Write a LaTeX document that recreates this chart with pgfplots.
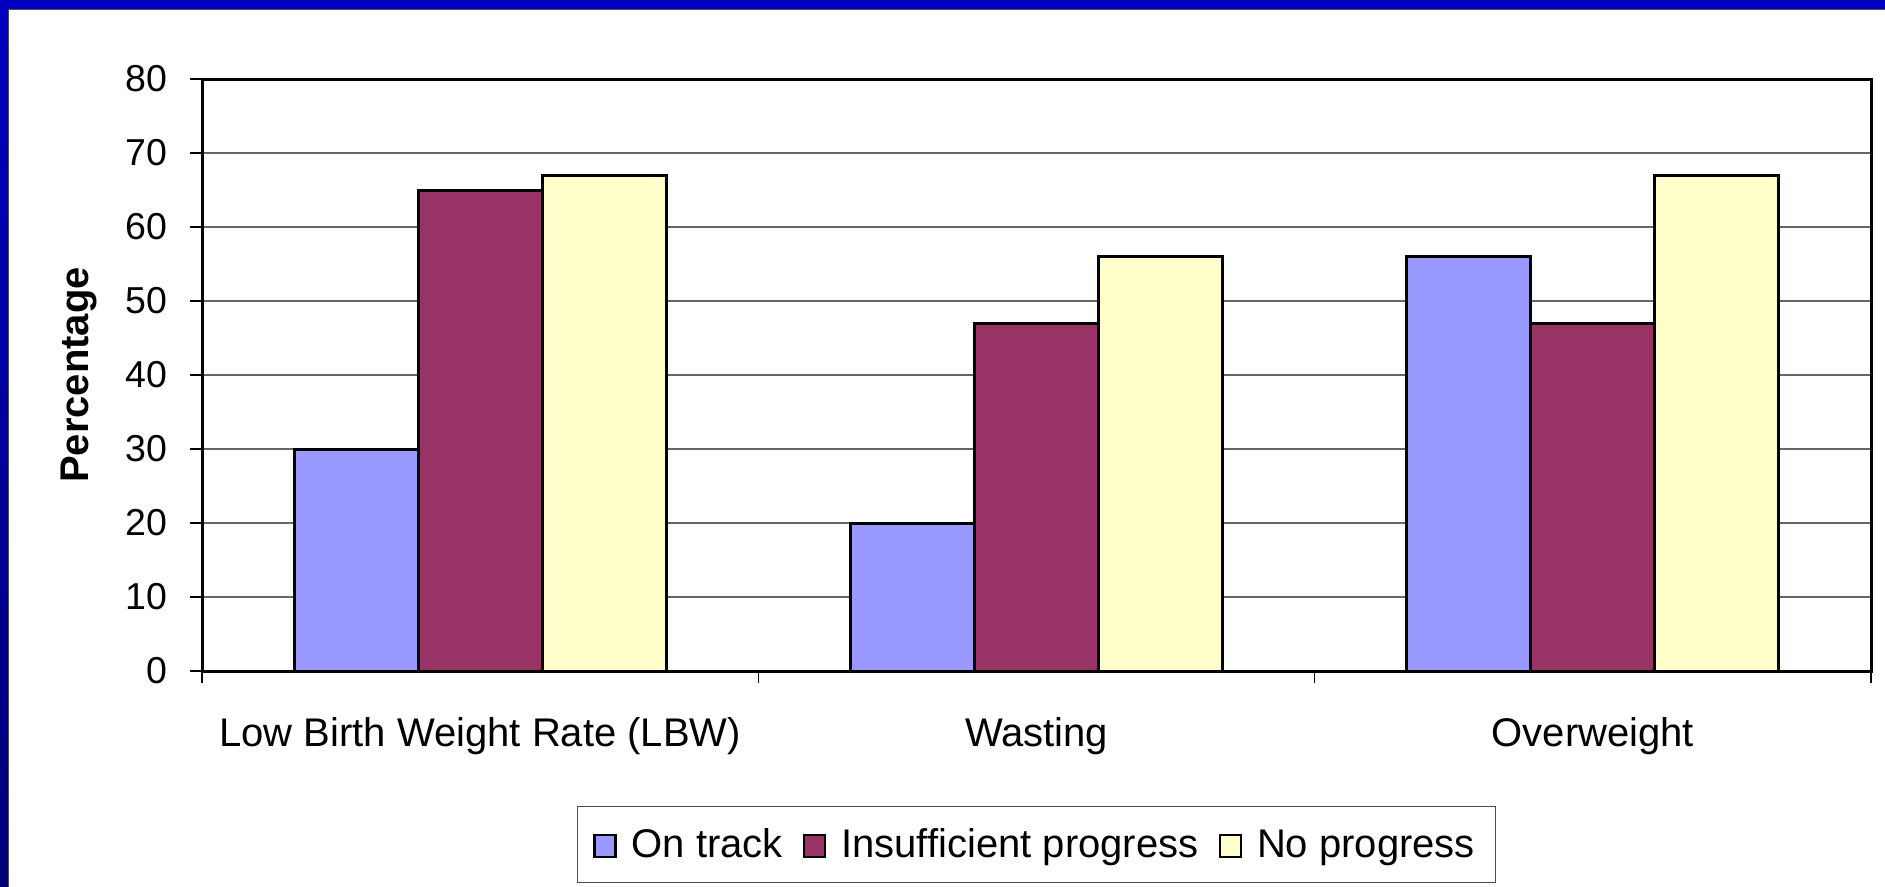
\documentclass[border=0pt]{standalone}
\usepackage{fontspec}
\setmainfont{Liberation Sans}
\usepackage{pgfplots}
\pgfplotsset{compat=1.18}
\definecolor{ontrack}{HTML}{9999FF}
\definecolor{insuff}{HTML}{993366}
\definecolor{noprog}{HTML}{FFFFCC}
\definecolor{slideblue}{RGB}{0,0,190}
\definecolor{slidenavy}{RGB}{0,0,120}
\pgfplotsset{
  sqlegend/.style={legend image code/.code={\draw[##1, draw=black, line width=1pt] (0pt,0pt) rectangle (8.4pt,8.8pt);}}
}
\begin{document}
\begin{tikzpicture}
\useasboundingbox (0,0) rectangle (754pt,354.4pt);
\fill[slideblue] (0,0) rectangle (754pt,354.4pt);
\shade[top color=slideblue, bottom color=slidenavy] (0,0) rectangle (3.2pt,350.4pt);
\fill[white] (3.2pt,-1pt) rectangle (756pt,350.4pt);
\draw[black!70, line width=0.4pt] (3.2pt,-1pt) -- (3.2pt,350.4pt) -- (756pt,350.4pt);
\begin{axis}[
  at={(80.8pt,86pt)}, anchor=south west,
  scale only axis, width=667.6pt, height=236.8pt,
  xmin=-0.5, xmax=2.5, ymin=0, ymax=80,
  ybar=0pt, bar width=0.223,
  axis line style={line width=1.2pt},
  ytick={0,10,...,80},
  ymajorgrids, major grid style={black!60, line width=0.5pt},
  tick align=outside, major tick length=4.8pt,
  tick style={black, line width=0.5pt},
  ytick pos=left, xtick pos=bottom,
  xtick={-0.5,0.5,1.5,2.5}, xticklabels={},
  extra x ticks={0,1,2},
  extra x tick labels={Low Birth Weight Rate (LBW),Wasting,Overweight},
  extra x tick style={major tick length=0pt, grid=none,
     xticklabel style={anchor=base, yshift=-30.2pt, font=\fontsize{16}{19}\selectfont}},
  /pgf/number format/assume math mode=true,
  yticklabel style={xshift=-5.7pt, font=\fontsize{15}{18}\selectfont},
  ylabel={\textbf{Percentage}},
  ylabel style={font=\fontsize{16}{19}\selectfont, at={(axis description cs:0,0.5)}, anchor=center, xshift=0pt, yshift=49.2pt},
  legend columns=-1,
  legend style={at={(0.5,-0.2931)}, anchor=center, draw=black!70, line width=0.4pt,
    font=\fontsize{16}{19}\selectfont, inner xsep=6.4pt, inner ysep=6.5pt,
    cells={anchor=base west, inner sep=0pt},
    /tikz/every odd column/.append style={column sep=4pt},
    /tikz/every even column/.append style={column sep=6pt}},
]
\addplot[fill=ontrack, draw=black, line width=1.2pt, sqlegend] coordinates {(0,30) (1,20) (2,56)};
\addplot[fill=insuff, draw=black, line width=1.2pt, sqlegend] coordinates {(0,65) (1,47) (2,47)};
\addplot[fill=noprog, draw=black, line width=1.2pt, sqlegend] coordinates {(0,67) (1,56) (2,67)};
\legend{On track,Insufficient progress,No progress}
\end{axis}
\end{tikzpicture}
\end{document}
